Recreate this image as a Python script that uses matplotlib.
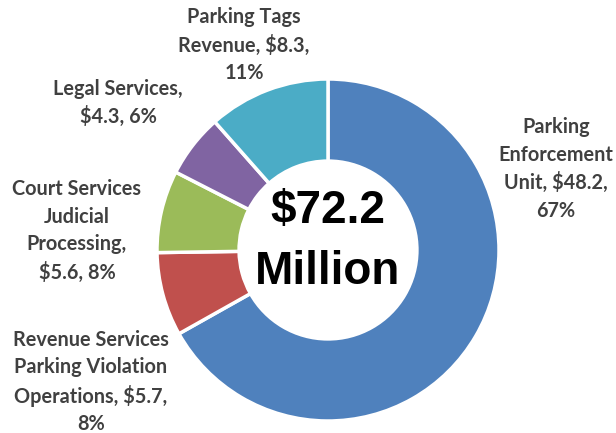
import matplotlib
matplotlib.use("Agg")
import matplotlib.pyplot as plt
from matplotlib import font_manager as fm

categories = ["Parking Enforcement Unit", "Revenue Services Parking Violation Operations",
              "Court Services Judicial Processing", "Legal Services", "Parking Tags Revenue"]
values = [48.2, 5.7, 5.6, 4.3, 8.3]
percents = [67, 8, 8, 6, 11]
labels = ["Parking\nEnforcement\nUnit, $48.2,\n67%",
          "Revenue Services\nParking Violation\nOperations, $5.7,\n8%",
          "Court Services\nJudicial\nProcessing,\n$5.6, 8%",
          "Legal Services,\n$4.3, 6%",
          "Parking Tags\nRevenue, $8.3,\n11%"]
colors = ["#4F81BD", "#C0504D", "#9BBB59", "#8064A2", "#4BACC6"]
total_text = "$72.2\nMillion"

lato_bold = None
for f in fm.fontManager.ttflist:
    base = f.fname.split("/")[-1].lower()
    if f.name == "Lato" and f.style == "normal" and base.startswith("lato-bold."):
        lato_bold = f.fname
if lato_bold:
    lab_fp = fm.FontProperties(fname=lato_bold, size=14.3)
else:
    lab_fp = fm.FontProperties(family="Lato", weight=700, size=14.3)

W, H = 616, 433
fig = plt.figure(figsize=(W / 100, H / 100), dpi=100)
ax = fig.add_axes([0, 0, 1, 1])
cx, cy, R = 328, H - 250, 171
ax.pie(values, colors=colors, startangle=90, counterclock=False,
       center=(cx, cy), radius=R,
       wedgeprops=dict(width=R * 0.48, edgecolor="white", linewidth=2.5))
ax.set_xlim(0, W)
ax.set_ylim(0, H)
ax.set_aspect("equal")
ax.axis("off")

label_pos = [(556, 169), (91, 382), (77, 231), (118, 103), (244, 45)]
for lab, (x, y) in zip(labels, label_pos):
    ax.text(x, H - y, lab, ha="center", va="center", fontproperties=lab_fp,
            color="#404040", linespacing=1.45)

ax.text(cx, H - 242, total_text, ha="center", va="center", fontsize=33,
        fontweight="bold", family=["Liberation Sans", "DejaVu Sans"],
        color="black", linespacing=1.5)

fig.savefig("out.png", dpi=100)
